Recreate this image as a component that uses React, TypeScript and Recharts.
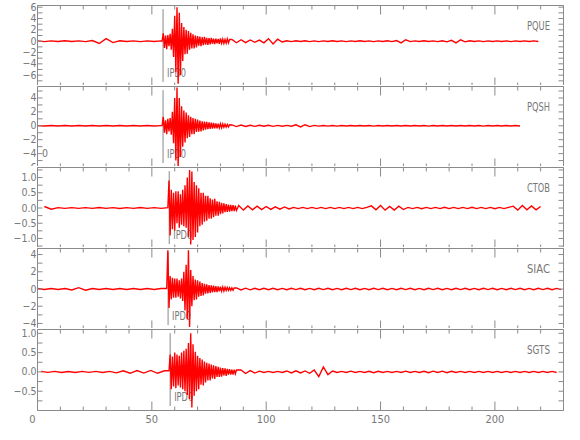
import React from "react";
import {LineChart, Line, XAxis, YAxis, ReferenceLine, Customized} from "recharts";

// time axis (seconds)
const timeTicks = [0, 10, 20, 30, 40, 50, 60, 70, 80, 90, 100, 110, 120, 130, 140, 150, 160, 170, 180, 190, 200, 210, 220, 230];
const timeLabels = [0, 50, 100, 150, 200];

const stations = ["PQUE", "PQSH", "CTOB", "SIAC", "SGTS"];
const picks = [54.9, 54.9, 57.6, 57.1, 58.0];
const pickName = "IPD0";

// each trace = head (3 s samples), burst (0.5 s samples), tail (2 s samples)
const segSteps = [3, 0.5, 2];

const pqueStarts = [0, 54.5, 85];
const pqueHead = [0.06, -0.07, 0.06, -0.06, 0.07, -0.06, 0.06, -0.07, 0.12, -0.4, 0.45, -0.25, 0.08, -0.06, 0.06, -0.07, 0.06, -0.06, 0.06];
const pqueBurst = [
    0.05, 1.4, -1.2, 1.0, -1.4, 1.1, -0.9, 1.3, -1.5, 2.2, -2.8, 4.5, -5.5, 6.0, -7.5, 5.0, -6.0, 3.2, -3.5, 2.5, -2.3,
    2.0, -2.2, 1.8, -1.5, 1.5, -1.3, 1.2, -1.3, 1.0, -1.1, 0.9, -0.8, 0.8, -0.9, 0.7, -0.7, 0.75, -0.6, 0.6, -0.65,
    0.55, -0.55, 0.6, -0.45, 0.45, -0.5, 0.45, -0.4, 0.4, -0.45, 0.5, -0.35, 0.35, -0.4, 0.3, -0.35, 0.4, -0.3, 0.3,
];
const pqueTail = [
    0.3, -0.28, 0.25, -0.25, 0.22, -0.2, 0.2, -0.3, 0.45, -0.5, 0.35, -0.15, 0.08, -0.07, 0.07, -0.06, 0.07, -0.07, 0.06, -0.07,
    0.06, -0.06, 0.07, -0.06, 0.06, -0.07, 0.06, -0.06, 0.07, -0.06, 0.06, -0.07, 0.06, -0.06, 0.07, -0.08, 0.12, -0.3, 0.25, -0.08,
    0.06, -0.06, 0.07, -0.06, 0.06, -0.07, 0.08, -0.12, 0.15, -0.3, 0.25, -0.12, 0.07, -0.06, 0.06, -0.07, 0.06, -0.06, 0.06, -0.06,
    0.06, -0.07, 0.06, -0.06, 0.06, -0.06, 0.06, -0.05,
];

const pqshStarts = [0, 54.5, 85];
const pqshHead = [0.03, -0.03, 0.03, -0.03, 0.03, -0.03, 0.03, -0.03, 0.03, -0.03, 0.03, -0.03, 0.03, -0.03, 0.03, -0.03, 0.03, -0.03, 0.03];
const pqshBurst = [
    0.03, 1.3, -1.0, 0.8, -1.2, 1.0, -0.8, 1.1, -1.3, 2.0, -2.5, 4.0, -5.0, 5.5, -6.0, 4.0, -4.5, 2.8, -3.0, 2.2, -2.4,
    1.9, -1.8, 1.5, -1.6, 1.3, -1.2, 1.1, -1.2, 1.0, -0.9, 0.9, -0.85, 0.75, -0.8, 0.65, -0.65, 0.6, -0.55, 0.55, -0.5,
    0.5, -0.45, 0.45, -0.42, 0.4, -0.38, 0.35, -0.35, 0.32, -0.3, 0.28, -0.28, 0.25, -0.22, 0.22, -0.2, 0.18, -0.17, 0.15,
];
const pqshTail = [
    0.12, -0.11, 0.1, -0.1, 0.08, -0.08, 0.08, -0.07, 0.07, -0.08, 0.06, -0.07, 0.06, -0.06, 0.14, -0.16, 0.15, -0.12, 0.06, -0.05,
    0.05, -0.05, 0.04, -0.05, 0.04, -0.04, 0.05, -0.04, 0.04, -0.04, 0.04, -0.05, 0.04, -0.04, 0.04, -0.04, 0.05, -0.04, 0.04, -0.04,
    0.04, -0.04, 0.04, -0.05, 0.04, -0.04, 0.04, -0.04, 0.05, -0.04, 0.04, -0.04, 0.04, -0.04, 0.04, -0.05, 0.04, -0.04, 0.04, -0.04,
    0.04, -0.04, 0.04, -0.03,
];

const ctobStarts = [3, 57.5, 88];
const ctobHead = [0.05, -0.04, 0.012, -0.012, 0.012, -0.012, 0.012, -0.012, 0.015, -0.012, 0.012, -0.015, 0.012, -0.012, 0.015, -0.012, 0.012, -0.012, 0.012];
const ctobBurst = [
    0.9, -0.9, 0.6, -0.7, 0.5, -0.75, 0.55, -0.5, 0.55, -0.65, 0.45, -0.55, 0.6, -0.6, 0.75, -0.65, 1.0, -0.95, 1.25, -1.2,
    1.2, -1.05, 0.85, -0.95, 0.75, -0.8, 0.65, -0.6, 0.5, -0.55, 0.5, -0.45, 0.4, -0.42, 0.4, -0.35, 0.32, -0.35, 0.28, -0.3,
    0.3, -0.25, 0.22, -0.25, 0.2, -0.2, 0.17, -0.18, 0.15, -0.14, 0.13, -0.13, 0.11, -0.12, 0.1, -0.1, 0.09, -0.1, 0.08, -0.08,
];
const ctobTail = [
    0.08, -0.07, 0.07, -0.06, 0.06, -0.05, 0.05, -0.045, 0.04, -0.04, 0.035, -0.03, 0.02, -0.02, 0.02, -0.02, 0.02, -0.02, 0.02, -0.02,
    0.02, -0.02, 0.02, -0.02, 0.02, -0.02, 0.02, -0.02, 0.02, 0.07, -0.06, 0.08, -0.07, 0.05, -0.07, 0.06, -0.05, 0.02, -0.02, 0.02,
    -0.025, 0.02, -0.02, 0.02, -0.02, 0.025, -0.02, 0.02, -0.02, 0.02, -0.02, 0.025, -0.02, 0.02, -0.02, 0.02, -0.025, 0.02, -0.02, 0.02,
    0.06, -0.07, 0.08, -0.06, 0.07, -0.06, 0.05,
];

const siacStarts = [0, 56.5, 87];
const siacHead = [0.06, -0.05, 0.06, -0.06, 0.05, -0.12, 0.16, -0.14, 0.06, -0.05, 0.06, -0.06, 0.05, -0.06, 0.06, -0.05, 0.06, -0.06, 0.05];
const siacBurst = [
    0.05, 4.5, -2.2, 1.5, -1.2, 1.3, -1.0, 1.2, -1.0, 1.2, -0.9, 1.0, -1.1, 1.2, -1.4, 2.0, -2.5, 2.8, -3.5, 4.5, -4.4,
    2.2, -2.0, 1.5, -1.3, 1.1, -1.2, 1.0, -0.9, 0.85, -0.8, 0.7, -0.75, 0.6, -0.55, 0.55, -0.5, 0.45, -0.45, 0.42, -0.4,
    0.38, -0.36, 0.32, -0.35, 0.3, -0.27, 0.26, -0.25, 0.22, -0.24, 0.2, -0.18, 0.18, -0.16, 0.15, -0.15, 0.13, -0.14, 0.12,
];
const siacTail = [
    0.12, -0.11, 0.1, -0.1, 0.09, -0.09, 0.08, -0.09, 0.08, -0.08, 0.07, -0.08, 0.08, -0.07, 0.08, -0.08, 0.07, -0.08, 0.08, -0.07,
    0.08, -0.08, 0.07, -0.08, 0.08, -0.07, 0.08, -0.08, 0.07, -0.08, 0.08, -0.07, 0.08, -0.08, 0.07, -0.08, 0.08, -0.07, 0.08, -0.08,
    0.07, -0.08, 0.08, -0.07, 0.08, -0.08, 0.07, -0.08, 0.08, -0.07, 0.08, -0.08, 0.07, -0.08, 0.08, -0.07, 0.08, -0.08, 0.07, -0.08,
    0.08, -0.07, 0.08, -0.08, 0.07, -0.08, 0.08, -0.07, 0.08, -0.08, 0.07, -0.08,
];

const sgtsStarts = [1.5, 57.5, 89];
const sgtsHead = [0.015, -0.012, 0.015, -0.015, 0.012, -0.015, 0.015, -0.012, 0.015, -0.015, 0.015, -0.025, 0.03, -0.035, 0.035, -0.03, 0.04, -0.035, 0.03];
const sgtsBurst = [
    0.03, 0.45, -0.45, 0.4, -0.38, 0.5, -0.42, 0.45, -0.35, 0.42, -0.4, 0.5, -0.45, 0.55, -0.5, 0.6, -0.6, 0.75, -0.7, 1.0, -0.92,
    0.72, -0.62, 0.52, -0.5, 0.42, -0.45, 0.36, -0.33, 0.32, -0.35, 0.27, -0.27, 0.24, -0.22, 0.22, -0.22, 0.19, -0.17, 0.17, -0.18,
    0.15, -0.13, 0.13, -0.13, 0.11, -0.12, 0.1, -0.09, 0.09, -0.1, 0.08, -0.07, 0.07, -0.07, 0.06, -0.07, 0.06, -0.05, 0.05,
];
const sgtsTail = [
    0.05, -0.04, 0.035, -0.03, 0.02, -0.015, 0.015, -0.015, 0.015, -0.015, 0.025, -0.025, 0.03, -0.025, 0.025, -0.035, 0.05, -0.12, 0.13, -0.07,
    0.025, -0.015, 0.015, -0.015, 0.02, -0.015, 0.015, -0.015, 0.015, -0.02, 0.015, -0.015, 0.015, -0.015, 0.015, -0.015, 0.02, -0.015, 0.015, -0.015,
    0.015, -0.02, 0.02, -0.015, 0.02, -0.02, 0.015, -0.015, 0.015, -0.015, 0.015, -0.015, 0.015, -0.015, 0.015, -0.015, 0.015, -0.015, 0.015, -0.015,
    0.015, -0.015, 0.015, -0.015, 0.015, -0.015, 0.015, -0.015, 0.015, -0.015,
];

// amplitude axes
const pqueTicks = [6, 5, 4, 3, 2, 1, 0, -1, -2, -3, -4, -5, -6, -7];
const pqueLabels = [6, 4, 2, 0, -2, -4, -6];
const pqshTicks = [5, 4, 3, 2, 1, 0, -1, -2, -3, -4, -5, -6];
const pqshLabels = [4, 2, 0, -2, -4, -6];
const ctobTicks = [1.25, 1.0, 0.75, 0.5, 0.25, 0, -0.25, -0.5, -0.75, -1.0, -1.25];
const ctobLabels = [1.0, 0.5, 0, -0.5, -1.0];
const siacTicks = [4, 3, 2, 1, 0, -1, -2, -3, -4];
const siacLabels = [4, 2, 0, -2, -4];
const sgtsTicks = [1.0, 0.75, 0.5, 0.25, 0, -0.25, -0.5, -0.75];
const sgtsLabels = [1.0, 0.5, 0, -0.5];

function build(starts, parts) {
    const rows = [];
    parts.forEach((vals, k) => vals.forEach((v, i) => {
        rows.push({t: Math.round((starts[k] + i * segSteps[k]) * 100) / 100, v});
    }));
    return rows;
}

const panels = [
    {data: build(pqueStarts, [pqueHead, pqueBurst, pqueTail]), domain: [-8, 6.3], ticks: pqueTicks, labels: pqueLabels, dec: 0},
    {data: build(pqshStarts, [pqshHead, pqshBurst, pqshTail]), domain: [-6, 5.65], ticks: pqshTicks, labels: pqshLabels, dec: 0},
    {data: build(ctobStarts, [ctobHead, ctobBurst, ctobTail]), domain: [-1.33, 1.33], ticks: ctobTicks, labels: ctobLabels, dec: 1},
    {data: build(siacStarts, [siacHead, siacBurst, siacTail]), domain: [-4.7, 4.7], ticks: siacTicks, labels: siacLabels, dec: 0},
    {data: build(sgtsStarts, [sgtsHead, sgtsBurst, sgtsTail]), domain: [-1.0, 1.1], ticks: sgtsTicks, labels: sgtsLabels, dec: 1},
];

const GRAY = "#8a8a8a";
const TXT = "#777";
const FONT = "'DejaVu Sans Condensed', 'DejaVu Sans', sans-serif";
const PLOT_H = 81;

const fmt = (v, dec) => {
    const s = Math.abs(v).toFixed(dec);
    return v < 0 ? "\u2212" + s : s;
};

const topTick = (p) => {
    const len = p.payload.value % 50 === 0 ? 9 : 4;
    return <line x1={p.x} x2={p.x} y1={p.y} y2={p.y + len} stroke={GRAY}/>;
};

const makeBottomTick = (showLabels) => (p) => {
    const v = p.payload.value;
    const len = v % 50 === 0 ? 9 : 4;
    return (
        <g>
            <line x1={p.x} x2={p.x} y1={p.y} y2={p.y - len} stroke={GRAY}/>
            {showLabels && timeLabels.includes(v) &&
                <text x={v === 0 ? p.x - 5 : p.x} y={p.y + 12} textAnchor="middle" fontFamily={FONT} fontSize={11} fill={TXT}>{v}</text>}
        </g>
    );
};

const makeLeftTick = (labels, dec) => (p) => {
    const v = p.payload.value;
    return (
        <g>
            <line x1={p.x} x2={p.x + 5} y1={p.y} y2={p.y} stroke={GRAY}/>
            {labels.includes(v) &&
                <text x={p.x - 1} y={p.y + 3.5} textAnchor="end" fontFamily={FONT} fontSize={10.5} fill={TXT}>{fmt(v, dec)}</text>}
        </g>
    );
};

const rightTick = (p) => <line x1={p.x} x2={p.x - 5} y1={p.y} y2={p.y} stroke={GRAY}/>;

const pickLabel = (props) => {
    const vb = props.viewBox || {x: 0, y: 0, height: 0};
    const bottom = Math.max(vb.y, vb.y + vb.height);
    return (
        <text x={vb.x + 4} y={bottom - 5.5} fontFamily={FONT} fontSize={13} fill={TXT}
              textLength={19} lengthAdjust="spacingAndGlyphs">{pickName}</text>
    );
};

function Panel({index}) {
    const cfg = panels[index];
    const last = index === panels.length - 1;
    const mt = index === 0 ? 5.5 : 1.5;
    const mb = last ? 29.5 : 0.5;
    const top = index === 0 ? 0 : 4 + PLOT_H * index;
    const h = mt + PLOT_H + mb;
    const [lo, hi] = cfg.domain;
    const range = hi - lo;
    const seg = [{x: picks[index], y: hi - range * 0.045}, {x: picks[index], y: lo + range * 0.055}];

    // axes are 1px thick so that they render; margins compensate
    return (
        <div style={{position: "absolute", left: 0, top, width: 580, height: h, background: "#fff"}}>
            <LineChart width={580} height={h} data={cfg.data}
                       margin={{top: mt - 1, right: 15.5, bottom: mb - 1, left: 36.5}}>
                <XAxis xAxisId="b" dataKey="t" type="number" domain={[0, 230]} ticks={timeTicks} interval={0}
                       allowDataOverflow height={1} tickSize={0} tickMargin={0} tickLine={false}
                       axisLine={{stroke: GRAY}} tick={makeBottomTick(last)}/>
                <XAxis xAxisId="t" orientation="top" dataKey="t" type="number" domain={[0, 230]} ticks={timeTicks}
                       interval={0} allowDataOverflow height={1} tickSize={0} tickMargin={0} tickLine={false}
                       axisLine={{stroke: GRAY}} tick={topTick}/>
                <YAxis yAxisId="l" type="number" domain={cfg.domain} ticks={cfg.ticks} interval={0} allowDataOverflow
                       width={1} tickSize={0} tickMargin={0} tickLine={false} axisLine={{stroke: GRAY}}
                       tick={makeLeftTick(cfg.labels, cfg.dec)}/>
                <YAxis yAxisId="r" orientation="right" type="number" domain={cfg.domain} ticks={cfg.ticks} interval={0}
                       allowDataOverflow width={1} tickSize={0} tickMargin={0} tickLine={false}
                       axisLine={{stroke: GRAY}} tick={rightTick}/>
                <ReferenceLine xAxisId="b" yAxisId="l" segment={seg} stroke="#888" strokeWidth={1} label={pickLabel}/>
                <Line xAxisId="b" yAxisId="l" type="linear" dataKey="v" stroke="#ff0000" strokeWidth={1.4}
                      dot={false} isAnimationActive={false}/>
                <Customized component={() => (
                    <g>
                        <text x={527} y={mt + 24.5} fontFamily={FONT} fontSize={13} fill={TXT}
                              textLength={23} lengthAdjust="spacingAndGlyphs">{stations[index]}</text>
                        {index === 1 &&
                            <text x={42} y={mt + 70.5} fontFamily={FONT} fontSize={10.5} fill={TXT}>0</text>}
                    </g>
                )}/>
            </LineChart>
        </div>
    );
}

export default function App() {
    return (
        <div style={{position: "absolute", left: 0, top: 0, width: 580, height: 440, background: "#fff"}}>
            {panels.map((p, i) => <Panel key={stations[i]} index={i}/>)}
        </div>
    );
}
